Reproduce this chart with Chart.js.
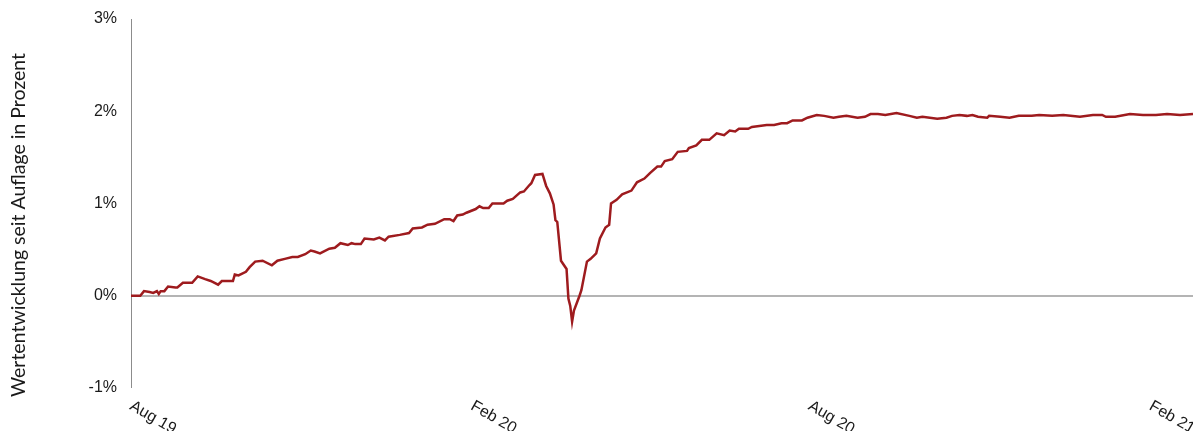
<!DOCTYPE html>
<html lang="de">
<head>
<meta charset="utf-8">
<title>Wertentwicklung seit Auflage</title>
<script src="https://cdn.jsdelivr.net/npm/chart.js@4.4.1/dist/chart.umd.min.js"></script>
<style>
    html, body { margin: 0; padding: 0; background: #ffffff; }
    #wrap { width: 1193px; height: 431px; position: relative; }
</style>
</head>
<body>
<div id="wrap"><canvas id="perf-chart"></canvas></div>
<script>
// Tage seit Auflage (01.08.2019) und Wertentwicklung in Prozent
const days = [
    0, 5, 7, 10, 12, 14, 15, 16, 18, 20, 24, 25, 28, 33, 36, 40, 43, 47, 49, 55,
    56, 58, 62, 64, 67, 71, 76, 79, 83, 87, 90, 94, 97, 99, 102, 107, 110, 113, 117, 119,
    121, 124, 126, 131, 134, 137, 139, 145, 150, 152, 157, 160, 164, 169, 172, 174, 176, 179, 181, 186,
    188, 190, 193, 195, 201, 203, 206, 210, 212, 215, 216, 218, 222, 224, 226, 228, 229, 230, 232, 235,
    236, 237, 238, 239, 242, 243, 246, 248, 251, 253, 256, 258, 259, 262, 265, 270, 273, 277, 280, 284,
    286, 288, 292, 295, 300, 301, 305, 308, 312, 316, 320, 323, 326, 328, 333, 335, 339, 343, 347, 351,
    354, 357, 362, 365, 370, 374, 379, 382, 386, 392, 396, 399, 403, 407, 413, 420, 424, 427, 435, 440,
    443, 447, 451, 454, 457, 462, 463, 469, 474, 479, 486, 490, 497, 503, 512, 519, 524, 526, 531, 539,
    546, 553, 559, 566, 573
];
const values = [
    0.00, 0.00, 0.05, 0.04, 0.03, 0.05, 0.02, 0.05, 0.05, 0.10, 0.09, 0.09, 0.14, 0.14, 0.21, 0.18, 0.16, 0.12, 0.16, 0.16,
    0.23, 0.22, 0.26, 0.31, 0.37, 0.38, 0.33, 0.38, 0.40, 0.42, 0.42, 0.45, 0.49, 0.48, 0.46, 0.51, 0.52, 0.57, 0.55, 0.57,
    0.56, 0.56, 0.62, 0.61, 0.63, 0.60, 0.64, 0.66, 0.68, 0.73, 0.74, 0.77, 0.78, 0.83, 0.83, 0.81, 0.87, 0.88, 0.90, 0.94,
    0.97, 0.95, 0.95, 1.00, 1.00, 1.03, 1.05, 1.12, 1.13, 1.20, 1.22, 1.31, 1.32, 1.19, 1.11, 0.99, 0.82, 0.80, 0.38, 0.29,
    -0.03, -0.11, -0.28, -0.16, 0.00, 0.06, 0.37, 0.40, 0.46, 0.62, 0.74, 0.77, 1.00, 1.04, 1.10, 1.14, 1.23, 1.27, 1.33, 1.40,
    1.40, 1.46, 1.48, 1.56, 1.57, 1.60, 1.63, 1.69, 1.69, 1.76, 1.74, 1.79, 1.78, 1.81, 1.81, 1.83, 1.84, 1.85, 1.85, 1.87,
    1.87, 1.90, 1.90, 1.93, 1.96, 1.95, 1.93, 1.94, 1.95, 1.93, 1.94, 1.97, 1.97, 1.96, 1.98, 1.95, 1.93, 1.94, 1.92, 1.93,
    1.95, 1.96, 1.95, 1.96, 1.94, 1.93, 1.95, 1.94, 1.93, 1.95, 1.95, 1.96, 1.95, 1.96, 1.94, 1.96, 1.96, 1.94, 1.94, 1.97,
    1.96, 1.96, 1.97, 1.96, 1.97
];

// Achsenbeschriftung der Zeitachse (Monatsanfang als Tag seit Auflage)
const tickDays = [0, 184, 366, 550];
const tickLabels = ['Aug 19', 'Feb 20', 'Aug 20', 'Feb 21'];
const yTitle = 'Wertentwicklung seit Auflage in Prozent';

const LINE_RED = '#9e1b1e';
const AXIS_FONT = '16px "Liberation Sans", Arial, sans-serif';

// schräge Datumsbeschriftung und Achsentitel selbst zeichnen
const customLabels = {
    id: 'customLabels',
    afterDraw(chart) {
        const ctx = chart.ctx;
        const xs = chart.scales.x;
        ctx.save();
        ctx.fillStyle = '#1a1a1a';
        ctx.font = AXIS_FONT;
        ctx.textAlign = 'left';
        ctx.textBaseline = 'top';
        tickDays.forEach((d, i) => {
            const px = xs.getPixelForValue(d);
            ctx.save();
            ctx.translate(px + 4, 398);
            ctx.rotate(Math.PI / 6);
            ctx.fillText(tickLabels[i], 0, 0);
            ctx.restore();
        });
        ctx.translate(19, 225);
        ctx.rotate(-Math.PI / 2);
        ctx.font = '19.5px Lato, sans-serif';
        ctx.textAlign = 'center';
        ctx.textBaseline = 'middle';
        ctx.fillText(yTitle, 0, 0);
        ctx.restore();
    }
};

new Chart(document.getElementById('perf-chart'), {
    type: 'line',
    data: {
        datasets: [{
            label: 'Wertentwicklung',
            data: days.map((d, i) => ({ x: d, y: values[i] })),
            borderColor: LINE_RED,
            borderWidth: 2.5,
            pointRadius: 0,
            tension: 0,
            fill: false
        }]
    },
    options: {
        responsive: true,
        maintainAspectRatio: false,
        animation: false,
        layout: { padding: { top: 19, right: 0, bottom: 35, left: 0 } },
        plugins: {
            legend: { display: false },
            tooltip: { enabled: false }
        },
        scales: {
            x: {
                type: 'linear',
                min: 0,
                max: 573,
                ticks: { display: false },
                grid: { display: false },
                border: { display: false }
            },
            y: {
                min: -1,
                max: 3,
                afterFit: (scale) => {
                    scale.width = 131;
                    scale.paddingTop = 0;
                    scale.paddingBottom = 0;
                },
                ticks: {
                    stepSize: 1,
                    padding: 14,
                    color: '#1a1a1a',
                    font: { family: '"Liberation Sans", Arial, sans-serif', size: 16 },
                    callback: (v) => v + '%'
                },
                grid: {
                    drawTicks: false,
                    color: (c) => c.tick && c.tick.value === 0 ? '#b4b4b4' : 'rgba(0,0,0,0)',
                    lineWidth: (c) => c.tick && c.tick.value === 0 ? 2 : 0
                },
                border: { display: true, color: '#8c8c8c', width: 1 }
            }
        }
    },
    plugins: [customLabels]
});
</script>
</body>
</html>
